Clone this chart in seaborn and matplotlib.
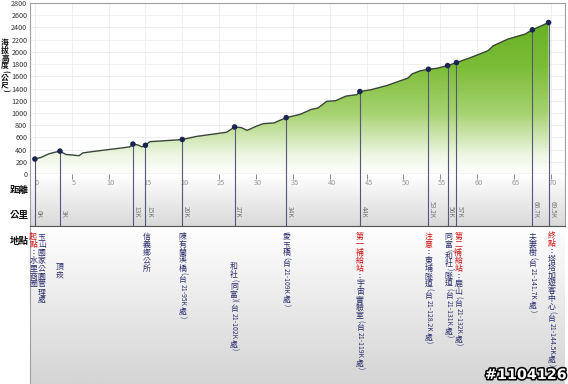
import numpy as np
import matplotlib
matplotlib.use('Agg')
import matplotlib.pyplot as plt
import seaborn as sns
from matplotlib.colors import LinearSegmentedColormap
from matplotlib.textpath import TextPath
from matplotlib.font_manager import FontProperties
from matplotlib.patches import Polygon
import matplotlib.patheffects as pe

# ---------------- data ----------------
profile_km = [0, 0.8, 1.9, 2.5, 3.4, 4.2, 5.5, 6.0, 6.5, 8, 10, 12, 12.9, 13.3, 14.0, 14.5, 15.0,
              15.6, 17, 19.5, 20, 21.9, 24, 26, 27.1, 28, 28.8, 30, 31, 32.4, 34.1, 36, 37.5,
              38.4, 39.6, 40.8, 42.2, 43.7, 44.1, 45.6, 47.8, 50.6, 51.2, 52.3, 53.4, 54.5,
              56, 57.2, 59.2, 61.5, 62.2, 64.2, 66.5, 67.5, 69.7]
profile_elev = [245, 270, 330, 350, 375, 320, 305, 300, 345, 370, 400, 430, 445, 490, 475, 445, 470,
                530, 540, 560, 565, 615, 650, 684, 770, 760, 715, 780, 825, 835, 923, 977, 1058,
                1080, 1190, 1200, 1275, 1300, 1350, 1380, 1450, 1570, 1640, 1690, 1715, 1730,
                1775, 1824, 1910, 2020, 2100, 2210, 2290, 2361, 2480]

marker_km = [0, 3.4, 13.3, 15, 20, 27.1, 34.1, 44.1, 53.4, 56, 57.2, 67.5, 69.7]
marker_elev = [245, 375, 490, 470, 565, 770, 923, 1350, 1715, 1775, 1824, 2361, 2480]
marker_k = ["0K", "3K", "13K", "15K", "20K", "27K", "34K", "44K", "53.2K", "56K", "57K", "66.7K", "69.5K"]

location_km = [0, 0, 3.4, 15, 20, 27.1, 34.1, 44.1, 53.4, 56, 57.2, 67.5, 69.7]
location_red = ["起點", "", "", "", "", "", "", "第一補給站", "注意", "", "第二補給站", "", "終點"]
location_text = ["：水里商圈", "玉山國家公園管理處", "頂崁", "信義鄉公所",
                 "陳有蘭溪橋(台21-95K處)", "和社(同富)(台21-102K處)", "愛玉橋(台21-109K處)",
                 "：宇宙實驗室(台21-119K處)", "：東埔隧道(台21-128.2K處)",
                 "同富(和社)隧道(台21-131K處)", "：鹿山(台21-132K處)",
                 "夫妻樹(台21-141.7K處)", "：塔塔加遊客中心(台21-144.5K處)"]

y_ticks = list(range(0, 2801, 200))
x_ticks = list(range(0, 71, 5))
y_title = "海拔高度(公尺)"
row_titles = ["距離", "公里", "地點"]
watermark = "#1104126"

# ---------------- style ----------------
sns.set_theme(style='white')
plt.rcParams['font.family'] = ['Noto Sans CJK TC', 'DejaVu Sans']

W, H = 568, 384
fig = plt.figure(figsize=(W / 100, H / 100), dpi=100)
fig.patch.set_facecolor('white')

def rect(l, t, r, b):
    return [l / W, 1 - b / H, (r - l) / W, (b - t) / H]

XL = (-0.665, 71.93)
ax = fig.add_axes(rect(30, 3, 565, 174))
axb = fig.add_axes(rect(30, 174, 565, 226))
axl = fig.add_axes(rect(30, 226, 565, 384))

# ---------- main profile ----------
ax.set_xlim(*XL)
ax.set_ylim(0, 2800)
ax.set_yticks(y_ticks)
ax.set_xticks(x_ticks)
ax.tick_params(axis='x', labelbottom=False, length=0)
ax.tick_params(axis='y', labelsize=5.2, colors='#333333', length=0, pad=2)
ax.grid(True, color='#ececec', lw=0.6)
for s in ['top', 'right', 'left']:
    ax.spines[s].set_color('#a0a0a0')
    ax.spines[s].set_linewidth(0.8)
ax.spines['bottom'].set_color('#666666')
ax.spines['bottom'].set_linewidth(0.8)

cmap = LinearSegmentedColormap.from_list('g', [(0, '#ffffff'), (0.12, '#eef6e4'), (0.4, '#a6d270'),
                                              (0.7, '#7cbd38'), (1.0, '#66b123')])
verts = [(profile_km[0], 0)] + list(zip(profile_km, profile_elev)) + [(profile_km[-1], 0)]
clip = Polygon(verts, closed=True, facecolor='none', edgecolor='none', transform=ax.transData)
ax.add_patch(clip)
im = ax.imshow(np.linspace(0, 1, 256).reshape(-1, 1), cmap=cmap, origin='lower',
               extent=[XL[0], XL[1], 0, 2500], aspect='auto', zorder=1)
im.set_clip_path(clip)
sns.lineplot(x=profile_km, y=profile_elev, ax=ax, color='#3a463a', lw=1.0, zorder=3)
ax.vlines(marker_km, 0, marker_elev, color='#55577a', lw=0.8, zorder=4)
sns.scatterplot(x=marker_km, y=marker_elev, ax=ax, color='#1c2452', s=16, edgecolor='none',
                zorder=5, marker='o')
ax.set_xlim(*XL)
ax.set_ylim(0, 2800)
ax.set_xlabel('')
ax.set_ylabel('')

# ---------- vertical text helper ----------
fp_cjk = FontProperties(family='Noto Sans CJK TC')

def is_cjk(c):
    return ord(c) > 0x2000

def runs(s):
    out, buf = [], ''
    for c in s:
        if is_cjk(c):
            if buf:
                out.append(buf)
                buf = ''
            out.append(c)
        else:
            buf += c
    if buf:
        out.append(buf)
    return out

def vtext(a, xy, xycoords, segments, cs=5.7, asz=4.9, dx=0.0, start=0.0, weight='normal'):
    cur = start
    for text, color in segments:
        for r in runs(text):
            if is_cjk(r[0]):
                a.annotate(r, xy=xy, xycoords=xycoords, xytext=(dx, -cur), textcoords='offset points',
                           ha='center', va='top', fontsize=cs, color=color, weight=weight,
                           annotation_clip=False)
                cur += cs * 1.0
            else:
                w = TextPath((0, 0), r, size=asz, prop=fp_cjk).get_extents().width
                a.annotate(r, xy=xy, xycoords=xycoords, xytext=(dx, -cur - 0.6), textcoords='offset points',
                           ha='center', va='top', rotation=-90, fontsize=asz, color=color,
                           weight=weight, annotation_clip=False)
                cur += w + asz * 0.35

# y title
vtext(ax, (5, H - 38), 'figure pixels', [(y_title, '#111111')], cs=5.6, asz=5.0, weight='bold')

# ---------- distance band ----------
for a, c0, c1 in [(axb, '#ffffff', '#d9d9d9'), (axl, '#ffffff', '#d4d4d4')]:
    a.set_xlim(*XL)
    a.set_ylim(0, 1)
    g = LinearSegmentedColormap.from_list('b', [c1, c0])
    a.imshow(np.linspace(0, 1, 128).reshape(-1, 1), cmap=g, origin='lower', extent=[XL[0], XL[1], 0, 1],
             aspect='auto', zorder=0)
    a.set_xlim(*XL)
    a.set_ylim(0, 1)
    a.set_xticks([])
    a.set_yticks([])
    for s in a.spines.values():
        s.set_color('#a0a0a0')
        s.set_linewidth(0.8)
axb.spines['top'].set_visible(False)
axb.spines['bottom'].set_color('#555555')
axl.spines['top'].set_color('#555555')
axl.spines['bottom'].set_visible(False)
axl.spines['right'].set_visible(False)

axb.vlines(x_ticks, 1 - 5 / 52, 1, color='#888888', lw=0.7)
for t in x_ticks:
    axb.annotate(str(t), xy=(t, (226 - 183) / 52), xycoords=('data', 'axes fraction'), xytext=(1.5, 0),
                 textcoords='offset points', ha='center', va='center', fontsize=5.3, color='#9a9a9a')
for xk in marker_km:
    axb.axvline(xk, color='#55577a', lw=0.8, zorder=3)
for xk, lab in zip(marker_km, marker_k):
    axb.annotate(lab, xy=(xk, (226 - 218) / 52), xycoords=('data', 'axes fraction'), xytext=(2.6, 0),
                 textcoords='offset points', ha='center', va='bottom', rotation=-90, fontsize=4.8,
                 color='#777777')

# row titles
for title, yp in zip(row_titles, [190, 215, 241]):
    fig.text(19 / W, 1 - yp / H, title, ha='center', va='center', fontsize=6.8, weight='bold', color='#111111')

# ---------- locations ----------
navy = '#2b2d6b'
red = '#d01010'
dxs = [-1.2, 4.8, 0, 0.6, 0, -0.6, 0, 0, 0, 0.8, 1.3, 0, 2.0]
starts = [4.3, 4.3, 26, 4.3, 4.3, 26, 4.3, 4.3, 4.3, 4.3, 4.3, 4.3, 3.6]
for xk, rd, tx, dx, st in zip(location_km, location_red, location_text, dxs, starts):
    segs = []
    if rd:
        segs.append((rd, red))
    segs.append((tx, navy))
    vtext(axl, (xk, 1.0), ('data', 'axes fraction'), segs, dx=dx, start=st)

fig.text(566 / W, 1 - 375 / H, watermark, ha='right', va='center', fontsize=10.3, weight='bold',
         family='DejaVu Sans', color='white',
         path_effects=[pe.withStroke(linewidth=2.2, foreground='black')])

fig.savefig('out.png', dpi=100)
